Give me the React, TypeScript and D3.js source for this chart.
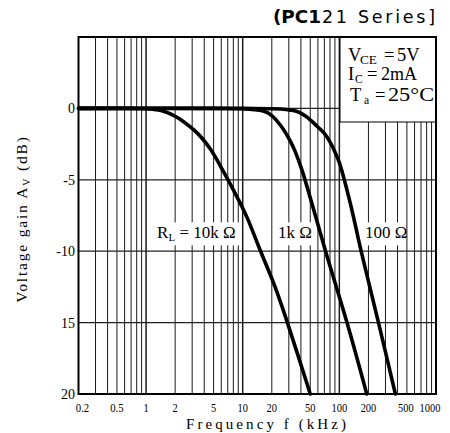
import React from "react";
import * as d3 from "d3";

const W = 450;
const H = 433;

// Axis ticks
const freqTicks = [0.2, 0.5, 1, 2, 5, 10, 20, 50, 100, 200, 500, 1000];
const freqTickLabels = ["0.2", "0.5", "1", "2", "5", "10", "20", "50", "100", "200", "500", "1000"];
const gainTicks = [0, -5, -10, -15, -20];
const gainTickLabels = ["0", "-5", "-10", "15", "20"];

// Series: frequency (kHz) and voltage gain (dB)
const rl10kFreq = [0.2, 0.5, 1.0, 1.43, 2.0, 2.29, 3.41, 4.68, 6.18, 7.05, 9.53, 11.2, 15.1, 21.9, 29, 50];
const rl10kGain = [0, 0, -0.03, -0.15, -0.55, -0.8, -1.75, -2.9, -4.3, -5.0, -6.7, -7.7, -9.9, -12.6, -15, -20];

const rl1kFreq = [0.2, 5, 10, 16.6, 20, 24.7, 30, 33.8, 40, 45, 50.2, 57.5, 72, 120, 192];
const rl1kGain = [0, 0, -0.03, -0.2, -0.5, -1.2, -2.1, -2.8, -4.1, -5.2, -6.3, -7.7, -10, -15, -20];

const rl100Freq = [0.2, 10, 20.9, 28, 36.6, 45, 60, 70, 80, 90, 100, 110, 125, 139, 168, 254, 380];
const rl100Gain = [0, 0, -0.02, -0.08, -0.22, -0.55, -1.3, -1.75, -2.35, -3.05, -3.8, -4.75, -6.2, -7.5, -10, -15, -20];

const seriesLabels = ["10k", "1k", "100"];

const PL = 78.5, PR = 436, PT = 37, PB = 394;

export default function App() {
  const x = d3.scaleLog().domain([0.2, 1000]).range([PL, PR]);
  const y = d3.scaleLinear().domain([5, -20]).range([PT, PB]);
  const gridX = x.ticks();
  const majors = [1, 10, 100];
  const line = d3
    .line<[number, number]>()
    .x((d) => x(d[0]))
    .y((d) => y(d[1]))
    .curve(d3.curveCatmullRom.alpha(0.5));

  const series = [
    { f: rl10kFreq, g: rl10kGain },
    { f: rl1kFreq, g: rl1kGain },
    { f: rl100Freq, g: rl100Gain },
  ];

  const serif = "'Liberation Serif', 'DejaVu Serif', serif";
  const sans = "'DejaVu Sans', sans-serif";

  // curve label anchors (freq, gain) of baseline start
  const lab10k = { x: x(1.3), y: y(-9.1) };
  const lab1k = { x: x(23.2), y: y(-9.1) };
  const lab100 = { x: x(184), y: y(-9.1) };

  return (
    <svg width={W} height={H} style={{ position: "absolute", left: 0, top: 0, background: "#fff" }}>
      <rect x={0} y={0} width={W} height={H} fill="#fff" />
      {/* Title */}
      <text x={273} y={23} fontFamily={sans} fontWeight="bold" fontSize={17.5} textLength={48} lengthAdjust="spacingAndGlyphs" fill="#000">
        (PC1
      </text>
      <text x={322} y={23} fontFamily={sans} fontSize={17.5} textLength={113} lengthAdjust="spacing" fill="#000">
        21 Series]
      </text>

      {/* vertical grid */}
      {gridX.map((v, i) => (
        <line
          key={"gx" + i}
          x1={x(v)}
          x2={x(v)}
          y1={PT}
          y2={PB}
          stroke="#1a1a1a"
          strokeWidth={majors.includes(v) ? 1.5 : 1}
        />
      ))}
      {/* horizontal grid */}
      {gainTicks.map((v, i) => (
        <line key={"gy" + i} x1={PL} x2={PR} y1={y(v)} y2={y(v)} stroke="#222" strokeWidth={1.2} />
      ))}

      {/* Legend box */}
      <rect x={340} y={PT} width={PR - 340} height={85} fill="#fff" stroke="#000" strokeWidth={1} />
      <g fontFamily={serif} fontSize={18.5} fill="#000">
        <text x={348} y={61}>V</text>
        <text x={360} y={64} fontSize={11.5} textLength={17} lengthAdjust="spacingAndGlyphs">CE</text>
        <text x={384} y={61}>=</text>
        <text x={397} y={61}>5V</text>

        <text x={348} y={80}>I</text>
        <text x={355} y={83} fontSize={11.5}>C</text>
        <text x={367} y={80}>=</text>
        <text x={381} y={80} textLength={36} lengthAdjust="spacingAndGlyphs">2mA</text>

        <text x={350} y={101}>T</text>
        <text x={364} y={104} fontSize={11.5}>a</text>
        <text x={375} y={101}>=</text>
        <text x={388} y={101} textLength={46} lengthAdjust="spacingAndGlyphs">25°C</text>
      </g>

      {/* curve label backgrounds */}
      <rect x={lab10k.x - 4} y={lab10k.y - 16} width={88} height={23} fill="#fff" />
      <rect x={lab1k.x - 2} y={lab1k.y - 16} width={36} height={23} fill="#fff" />
      <rect x={lab100.x - 3} y={lab100.y - 16} width={43} height={23} fill="#fff" />
      <g fontFamily={serif} fontSize={17} fill="#000">
        <text x={lab10k.x} y={lab10k.y}>
          R<tspan fontSize={11} dy={3}>L</tspan>
          <tspan dy={-3}> = 10k Ω</tspan>
        </text>
        <text x={lab1k.x} y={lab1k.y}>1k Ω</text>
        <text x={lab100.x} y={lab100.y}>100 Ω</text>
      </g>

      {/* frame */}
      <rect x={PL} y={PT} width={PR - PL} height={PB - PT} fill="none" stroke="#000" strokeWidth={2} />

      {/* curves */}
      {series.map((s, i) => (
        <path
          key={seriesLabels[i]}
          d={line(s.f.map((f, j) => [f, s.g[j]] as [number, number])) || ""}
          fill="none"
          stroke="#000"
          strokeWidth={3.6}
          strokeLinecap="round"
          strokeLinejoin="round"
        />
      ))}

      {/* x tick labels */}
      <g fontFamily={serif} fontSize={13} fill="#000" textAnchor="middle">
        {freqTicks.map((v, i) => {
          let px = x(v);
          if (i === 0) px += 4;
          if (i === freqTicks.length - 2) px -= 1;
          if (i === freqTicks.length - 1) px -= 6;
          const lab = freqTickLabels[i];
          const len = lab.replace(".", "").length * 5.2 + (lab.includes(".") ? 3 : 0);
          return (
            <text key={"xt" + i} x={px} y={412} textLength={len} lengthAdjust="spacingAndGlyphs">
              {lab}
            </text>
          );
        })}
      </g>
      {/* y tick labels */}
      <g fontFamily={serif} fontSize={14} fill="#000" textAnchor="end">
        {gainTicks.map((v, i) => (
          <text key={"yt" + i} x={75} y={y(v) + 5}>
            {gainTickLabels[i]}
          </text>
        ))}
      </g>

      {/* axis titles */}
      <text x={266} y={429} fontFamily={serif} fontSize={15} textAnchor="middle" textLength={160} lengthAdjust="spacing" fill="#000">
        Frequency  f  (kHz)
      </text>
      <text
        transform="translate(27,219) rotate(-90)"
        fontFamily={serif}
        fontSize={15.5}
        textAnchor="middle"
        fill="#000"
        letterSpacing={1.8}
      >
        Voltage gain A<tspan fontSize={10} dy={3}>V</tspan>
        <tspan dy={-3}> (dB)</tspan>
      </text>
    </svg>
  );
}
